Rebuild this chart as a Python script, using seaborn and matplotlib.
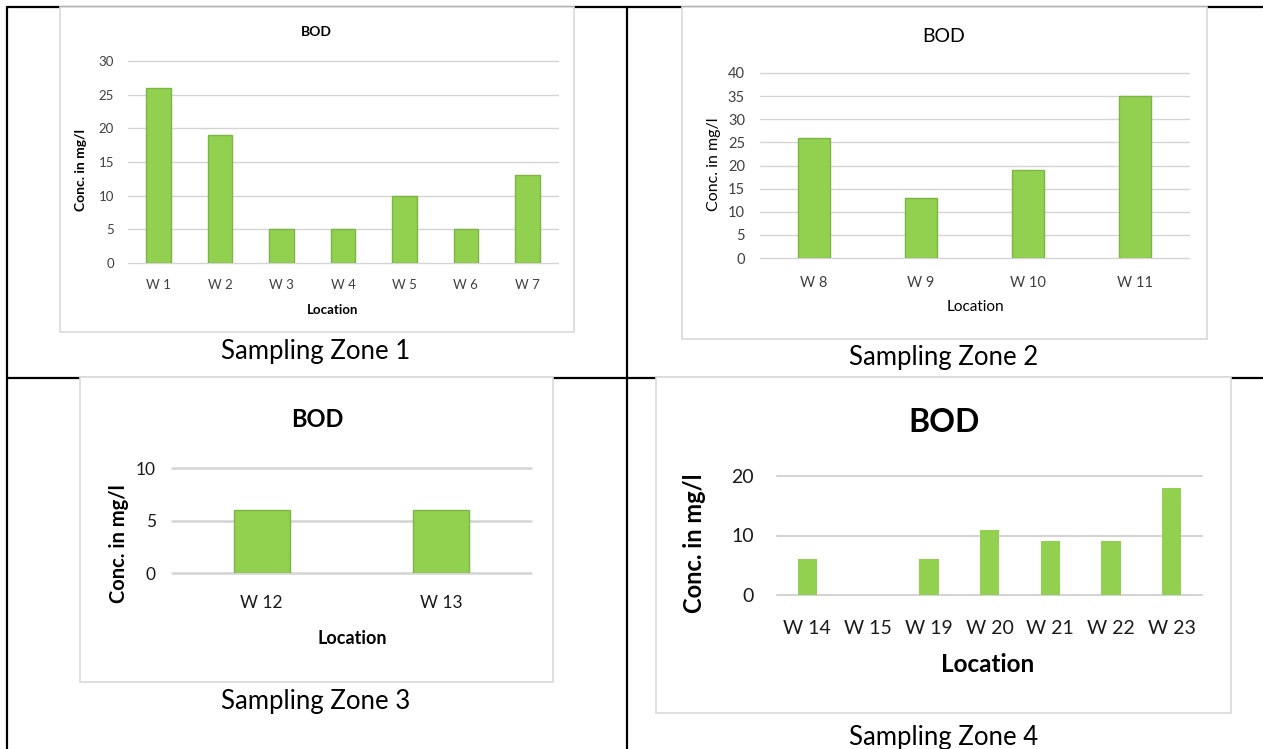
import matplotlib
matplotlib.use("Agg")
import matplotlib.pyplot as plt
from matplotlib.lines import Line2D
from matplotlib.patches import Rectangle
import seaborn as sns

# BOD concentration (mg/l) per sampling location, grouped by zone
zone1_locations = ["W 1", "W 2", "W 3", "W 4", "W 5", "W 6", "W 7"]
zone1_bod = [26, 19, 5, 5, 10, 5, 13]

zone2_locations = ["W 8", "W 9", "W 10", "W 11"]
zone2_bod = [26, 13, 19, 35]

zone3_locations = ["W 12", "W 13"]
zone3_bod = [6, 6]

zone4_locations = ["W 14", "W 15", "W 19", "W 20", "W 21", "W 22", "W 23"]
zone4_bod = [6, 0, 6, 11, 9, 9, 18]

zone1_yticks = [0, 5, 10, 15, 20, 25, 30]
zone2_yticks = [0, 5, 10, 15, 20, 25, 30, 35, 40]
zone3_yticks = [0, 5, 10]
zone4_yticks = [0, 10, 20]

captions = ["Sampling Zone 1", "Sampling Zone 2", "Sampling Zone 3", "Sampling Zone 4"]

sns.set_theme(style="white")
plt.rcParams["font.family"] = ["Lato", "DejaVu Sans"]

W, H = 1263, 749
fig = plt.figure(figsize=(W / 100, H / 100), dpi=100)
fig.patch.set_facecolor("white")

GREEN = "#92D050"
EDGE = "#7DB545"
GRID = "#D4D4D4"
BOX = "#D9D9D9"
PX = 0.72  # points per pixel at 100 dpi


def fx(x):
    return x / W


def fy(y):
    return 1 - y / H


def hline(x0, x1, y):
    fig.add_artist(Line2D([fx(x0), fx(x1)], [fy(y), fy(y)], color="black",
                          lw=1.6, zorder=0.2, transform=fig.transFigure))


def vline(x, y0, y1):
    fig.add_artist(Line2D([fx(x), fx(x)], [fy(y0), fy(y1)], color="black",
                          lw=1.6, zorder=0.2, transform=fig.transFigure))


def box(x0, y0, x1, y1):
    fig.add_artist(Rectangle((fx(x0), fy(y1)), fx(x1) - fx(x0), fy(y0) - fy(y1),
                             facecolor="white", edgecolor=BOX, lw=1.2,
                             zorder=0.5, transform=fig.transFigure))


# table grid
hline(7, W, 7)
hline(7, W, 378)
vline(7, 7, H)
vline(627, 7, H)

# chart frames
box(60, 7, 574, 332)
box(682, 7, 1207, 339)
box(80, 377, 553, 682)
box(656, 377, 1231, 713)


def panel(rect, locs, vals, yticks, width, edge, grid_lw, tick_fs, tick_col,
          xpad, ypad, title, title_xy, title_fs, title_w,
          ylab_xy, ylab_fs, xlab_xy, xlab_fs, lab_w,
          caption, cap_xy):
    x0, y0, x1, y1 = rect
    ax = fig.add_axes([fx(x0), fy(y1), fx(x1) - fx(x0), fy(y0) - fy(y1)])
    ax.set_zorder(1)
    ax.set_facecolor("none")
    sns.barplot(x=locs, y=vals, color=GREEN, saturation=1, width=width,
                edgecolor=edge if edge else GREEN, linewidth=1.0 if edge else 0,
                ax=ax, zorder=3)
    ax.set_xlim(-0.5, len(locs) - 0.5)
    ax.set_ylim(yticks[0], yticks[-1])
    ax.set_yticks(yticks)
    ax.set_yticklabels([str(t) for t in yticks])
    for t in yticks:
        ax.axhline(t, color=GRID, lw=grid_lw, zorder=1, clip_on=False)
    for s in ax.spines.values():
        s.set_visible(False)
    ax.tick_params(axis="both", length=0, labelsize=tick_fs, colors=tick_col)
    ax.tick_params(axis="x", pad=xpad * PX)
    ax.tick_params(axis="y", pad=ypad * PX)
    ax.set_xlabel("")
    ax.set_ylabel("")
    fig.text(fx(title_xy[0]), fy(title_xy[1]), title, ha="center", va="center",
             fontsize=title_fs, fontweight=title_w, color="black")
    fig.text(fx(ylab_xy[0]), fy(ylab_xy[1]), "Conc. in mg/l", ha="center",
             va="center", rotation=90, fontsize=ylab_fs, fontweight=lab_w,
             color="black")
    fig.text(fx(xlab_xy[0]), fy(xlab_xy[1]), "Location", ha="center",
             va="center", fontsize=xlab_fs, fontweight=lab_w, color="black")
    fig.text(fx(cap_xy[0]), fy(cap_xy[1]), caption, ha="center", va="center",
             fontsize=18.5, color="black")
    return ax


panel((128, 61, 558, 263), zone1_locations, zone1_bod, zone1_yticks,
      0.4, EDGE, 1.0, 9.5, "#404040", 16, 14,
      "BOD", (316, 32), 10, "bold",
      (81, 170), 10, (333, 310), 9.5, "bold",
      captions[0], (316, 352))

panel((760, 73, 1189, 258), zone2_locations, zone2_bod, zone2_yticks,
      0.3, EDGE, 1.0, 10.5, "#404040", 18, 15,
      "BOD", (944, 37), 14, "normal",
      (714, 164), 11.5, (975, 307), 11, "normal",
      captions[1], (944, 358))

panel((172, 468, 531, 573), zone3_locations, zone3_bod, zone3_yticks,
      0.31, EDGE, 1.8, 12.5, "#1a1a1a", 22, 16,
      "BOD", (317, 420), 17, "bold",
      (119, 544), 14.5, (352, 638), 13, "bold",
      captions[2], (316, 702))

panel((777, 476, 1202, 595), zone4_locations, zone4_bod, zone4_yticks,
      0.32, None, 1.5, 14, "#1a1a1a", 25, 23,
      "BOD", (944, 422), 23, "bold",
      (695, 543), 17, (988, 665), 17.5, "bold",
      captions[3], (944, 737))

fig.savefig("out.png", dpi=100, facecolor="white")
